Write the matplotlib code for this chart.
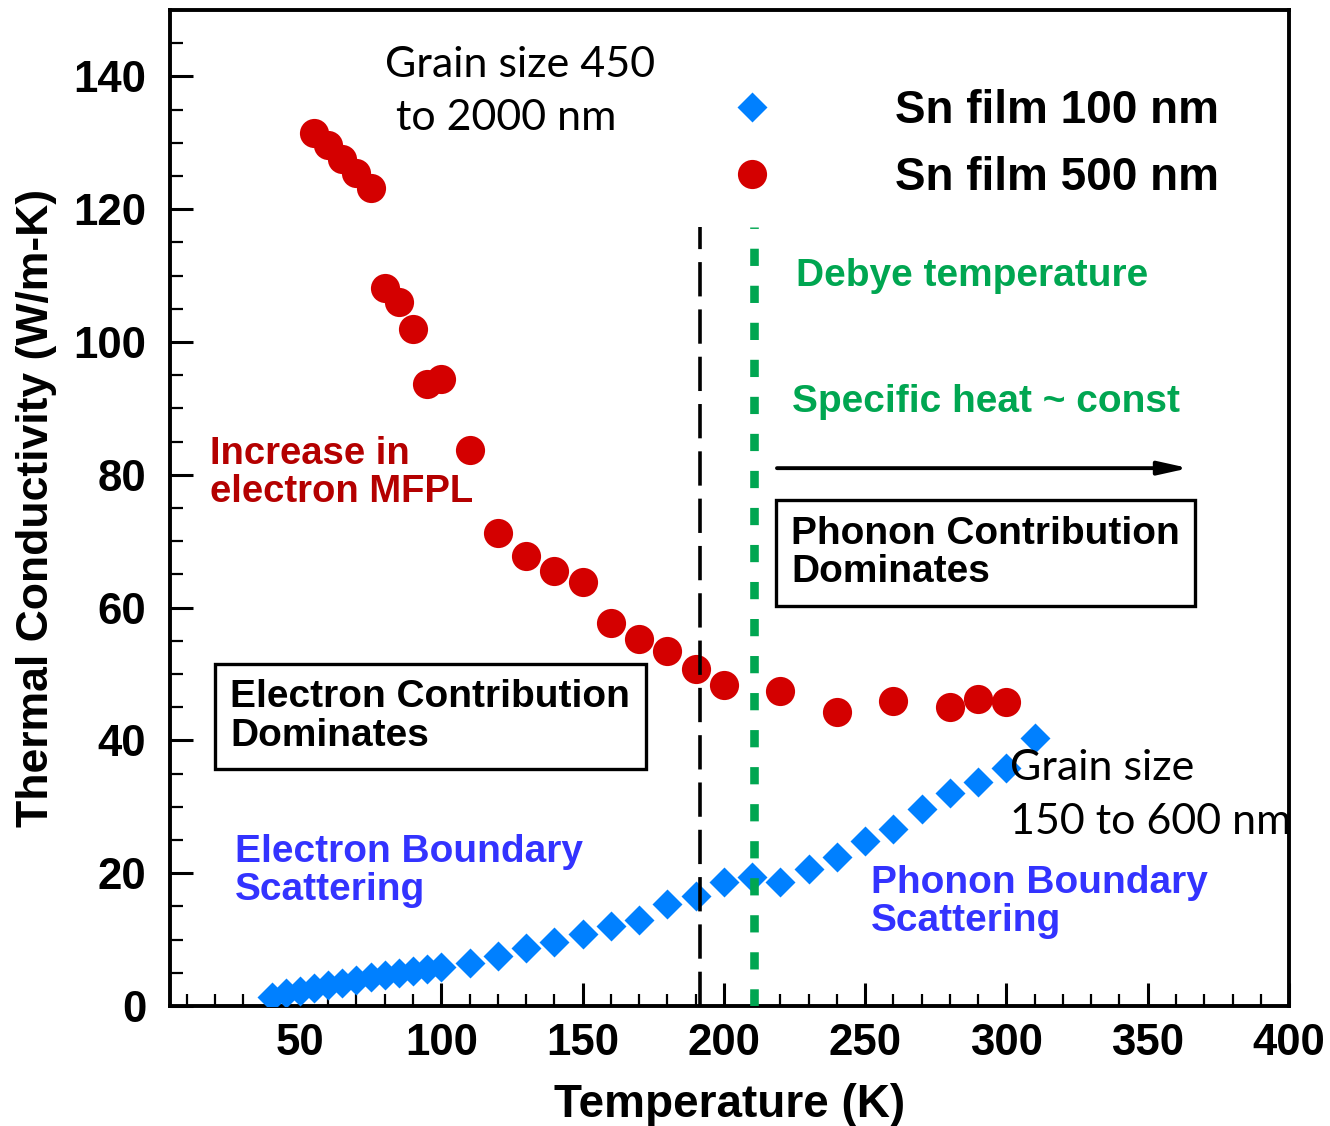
import matplotlib
matplotlib.use("Agg")
import matplotlib.pyplot as plt
from matplotlib.ticker import MultipleLocator

# Sn film 100 nm (blue diamonds)
t_100 = [40, 45, 50, 55, 60, 65, 70, 75, 80, 85, 90, 95, 100,
         110, 120, 130, 140, 150, 160, 170, 180, 190, 200, 210, 220,
         230, 240, 250, 260, 270, 280, 290, 300, 310]
k_100 = [1.4, 1.9, 2.3, 2.7, 3.1, 3.5, 3.9, 4.3, 4.7, 5.0, 5.3, 5.6, 5.9,
         6.5, 7.5, 8.7, 9.7, 10.8, 12.0, 13.0, 15.3, 16.6, 18.7, 19.4, 18.7,
         20.7, 22.5, 24.9, 26.7, 29.6, 32.0, 33.8, 35.9, 40.3]

# Sn film 500 nm (red circles)
t_500 = [55, 60, 65, 70, 75, 80, 85, 90, 95, 100, 110, 120, 130, 140, 150,
         160, 170, 180, 190, 200, 220, 240, 260, 280, 290, 300]
k_500 = [131.5, 129.6, 127.6, 125.5, 123.2, 108.2, 106.0, 102.0, 93.7, 94.5,
         83.7, 71.3, 67.7, 65.5, 63.9, 57.7, 55.3, 53.5, 50.8, 48.4,
         47.5, 44.2, 45.9, 45.0, 46.2, 45.8]

series_labels = ["Sn film 100 nm", "Sn film 500 nm"]
debye_t = 210.5
crossover_t = 191.5
line_top = 117.3

BOLD = "Liberation Sans"
CALIBRI_LIKE = "Lato"
GREEN = "#00A651"
DARK_RED = "#B40000"
TXT_BLUE = "#3333FF"

fig = plt.figure(figsize=(13.3, 11.26), dpi=100)
ax = fig.add_axes([0.1278, 0.1066, 0.8414, 0.8845])

ax.plot(t_100, k_100, ls="none", marker="D", ms=15.5, color="#0080FF",
        mec="none", label=series_labels[0], zorder=3)
ax.plot(t_500, k_500, ls="none", marker="o", ms=21, color="#D40000",
        mec="none", label=series_labels[1], zorder=3)

# reference lines
ax.plot([crossover_t, crossover_t], [0, line_top], color="black", lw=2.6,
        dashes=(9.5, 3.6), zorder=4)
ax.plot([debye_t, debye_t], [0, line_top], color=GREEN, lw=6.2,
        dashes=(2.0, 2.3), zorder=4)

ax.set_xticks(range(50, 401, 50))
ax.set_yticks(range(0, 141, 20))
ax.xaxis.set_minor_locator(MultipleLocator(10))
ax.yaxis.set_minor_locator(MultipleLocator(5))
ax.set_xlim(4, 400)
ax.set_ylim(0, 150)

ax.tick_params(which="both", direction="in", top=False, right=False)
ax.tick_params(which="major", length=16.5, width=2.2)
ax.tick_params(which="minor", length=9, width=1.6)
ax.tick_params(axis="x", pad=12)
ax.tick_params(axis="y", pad=17)
for lab in ax.get_xticklabels() + ax.get_yticklabels():
    lab.set_fontfamily(BOLD)
    lab.set_fontweight("bold")
    lab.set_fontsize(31.5)
for sp in ax.spines.values():
    sp.set_linewidth(2.8)

ax.set_xlabel("Temperature (K)", fontfamily=BOLD, fontweight="bold",
              fontsize=33, labelpad=14)
ax.set_ylabel("Thermal Conductivity (W/m-K)", fontfamily=BOLD,
              fontweight="bold", fontsize=32, labelpad=12)

leg = ax.legend(loc="upper right", bbox_to_anchor=(0.937, 0.921), frameon=False,
                prop={"family": BOLD, "weight": "bold", "size": 33},
                handlelength=1.0, handletextpad=2.6, labelspacing=0.5,
                borderpad=0, borderaxespad=0)

# annotations
ax.text(80.2, 137.7, "Grain size 450\n to 2000 nm", fontfamily=CALIBRI_LIKE,
        fontsize=31, ha="left", va="center", linespacing=1.5)
ax.text(301.1, 31.75, "Grain size\n150 to 600 nm", fontfamily=CALIBRI_LIKE,
        fontsize=31, ha="left", va="center", linespacing=1.5, clip_on=False)

ax.text(18.2, 80.3, "Increase in\nelectron MFPL", fontfamily=BOLD,
        fontweight="bold", fontsize=27.5, color=DARK_RED, ha="left",
        va="center", linespacing=1.08)
ax.text(27.0, 20.3, "Electron Boundary\nScattering", fontfamily=BOLD,
        fontweight="bold", fontsize=28, color=TXT_BLUE, ha="left",
        va="center", linespacing=1.08)
ax.text(252.1, 15.7, "Phonon Boundary\nScattering", fontfamily=BOLD,
        fontweight="bold", fontsize=28, color=TXT_BLUE, ha="left",
        va="center", linespacing=1.08)

box = dict(boxstyle="square,pad=0.4", facecolor="white", edgecolor="black",
           linewidth=2.4)
ax.text(25.3, 43.6, "Electron Contribution\nDominates", fontfamily=BOLD,
        fontweight="bold", fontsize=28, ha="left", va="center",
        linespacing=1.08, bbox=box, zorder=5)
ax.text(223.8, 68.2, "Phonon Contribution\nDominates", fontfamily=BOLD,
        fontweight="bold", fontsize=28, ha="left", va="center",
        linespacing=1.08, bbox=box, zorder=5)

ax.text(225.6, 110.0, "Debye temperature", fontfamily=BOLD,
        fontweight="bold", fontsize=28, color=GREEN, ha="left", va="center")
ax.text(224.0, 90.9, "Specific heat ~ const", fontfamily=BOLD,
        fontweight="bold", fontsize=28, color=GREEN, ha="left", va="center")

ax.annotate("", xy=(364.5, 81.0), xytext=(218.8, 81.0),
            arrowprops=dict(arrowstyle="-|>,head_length=1.8,head_width=0.4",
                            color="black", lw=2.8, shrinkA=0, shrinkB=0))

fig.savefig("out.png", dpi=100)
